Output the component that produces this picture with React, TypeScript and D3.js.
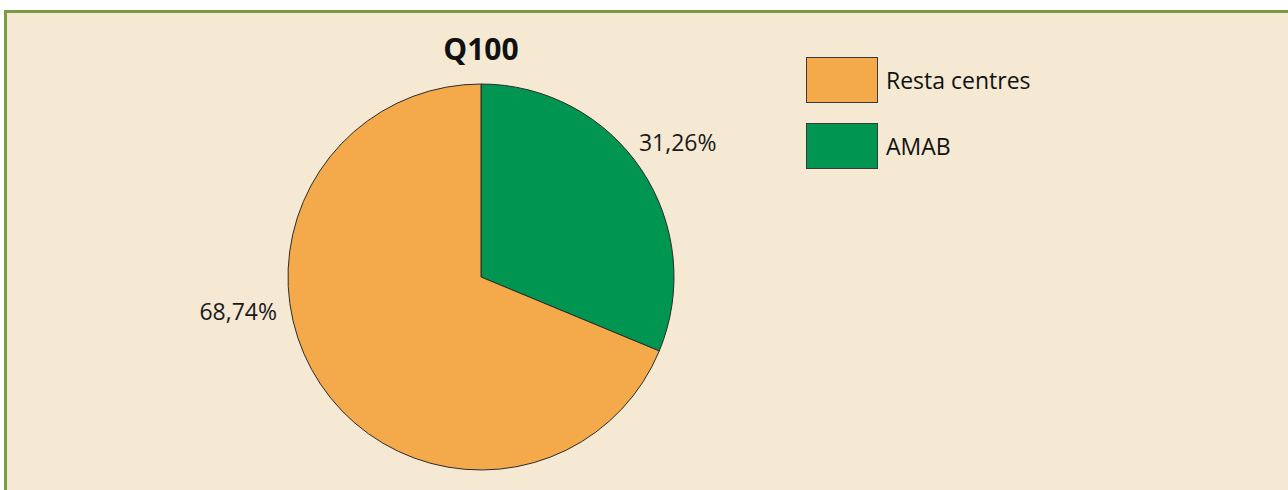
import React from "react";
import * as d3 from "d3";

const categories = ["AMAB", "Resta centres"];
const values = [31.26, 68.74];
const labels = ["31,26%", "68,74%"];
const legendOrder = ["Resta centres", "AMAB"];
const title = "Q100";

const W = 1288;
const H = 490;
const colors: Record<string, string> = { AMAB: "#009550", "Resta centres": "#F4AA4B" };
const FONT = "'Open Sans', 'Noto Sans', sans-serif";

export default function App() {
  const cx = 481;
  const cy = 277;
  const r = 193;
  const pie = d3.pie<number>().sort(null).value((d) => d);
  const arcs = pie(values);
  const arc = d3.arc<d3.PieArcDatum<number>>().innerRadius(0).outerRadius(r);
  // label placement: green at outer arc centroid, orange to the left (best-fit style)
  const labelArc = d3.arc<d3.PieArcDatum<number>>().innerRadius(r + 40).outerRadius(r + 40);

  const labelPos = arcs.map((a, i) => {
    if (i === 0) {
      const [x, y] = labelArc.centroid(a);
      return { x: x + 3, y: y - 3, anchor: "middle" };
    }
    return { x: -r - 11, y: 37, anchor: "end" };
  });

  const legendY = d3.scaleBand().domain(legendOrder).range([57, 168]).paddingInner(21 / 66).paddingOuter(0);

  return (
    <svg
      width={W}
      height={H}
      style={{ position: "fixed", left: 0, top: 0, display: "block" }}
    >
      <rect x={0} y={0} width={W} height={H} fill="#ffffff" />
      <rect x={5.5} y={11.5} width={W} height={H} fill="#F5E9D4" stroke="#7B9A46" strokeWidth={3} />
      <text
        x={cx}
        y={60}
        textAnchor="middle"
        fontFamily={FONT}
        fontWeight={700}
        fontSize={30}
        fill="#111"
      >
        {title}
      </text>
      <g transform={`translate(${cx},${cy})`}>
        {arcs.map((a, i) => (
          <path
            key={categories[i]}
            d={arc(a) || ""}
            fill={colors[categories[i]]}
            stroke="#2b2b2b"
            strokeWidth={1}
          />
        ))}
        {arcs.map((a, i) => (
          <text
            key={"l" + i}
            x={labelPos[i].x}
            y={labelPos[i].y}
            textAnchor={labelPos[i].anchor as any}
            dominantBaseline="middle"
            fontFamily={FONT}
            fontSize={23}
            fill="#1a1a1a"
          >
            {labels[i]}
          </text>
        ))}
      </g>
      {legendOrder.map((c) => {
        const y = legendY(c)!;
        const h = legendY.bandwidth();
        return (
          <g key={c}>
            <rect x={806.5} y={y + 0.5} width={71} height={h} fill={colors[c]} stroke="#3a3a3a" strokeWidth={1} />
            <text
              x={886}
              y={y + h / 2 + 9.5}
              fontFamily={FONT}
              fontSize={23}
              fill="#111"
            >
              {c}
            </text>
          </g>
        );
      })}
    </svg>
  );
}
